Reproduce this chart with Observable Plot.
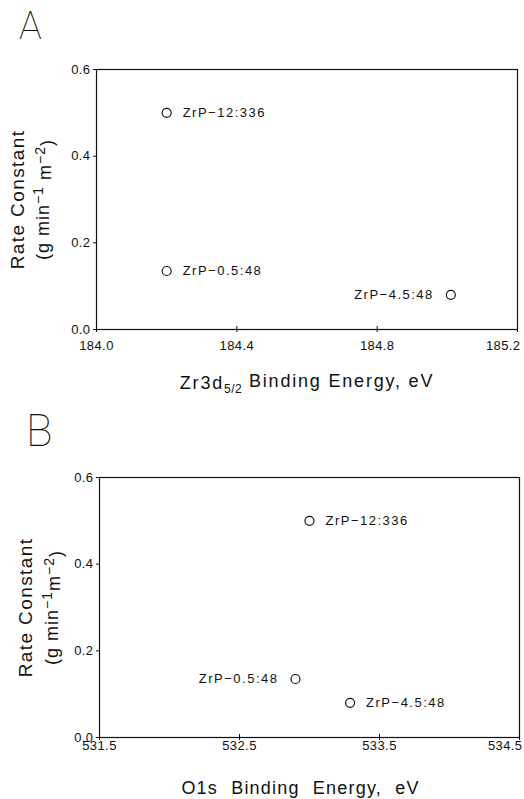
<!DOCTYPE html>
<html><head><meta charset="utf-8">
<script src="https://cdn.jsdelivr.net/npm/d3@7"></script>
<script src="https://cdn.jsdelivr.net/npm/@observablehq/plot@0.6"></script>
<style>
body{margin:0;background:#fff;}
#wrap{position:relative;width:524px;height:799px;overflow:hidden;}
.panel{position:absolute;left:0;}
.letter{position:absolute;font-family:Roboto, "DejaVu Sans", sans-serif;font-weight:100;line-height:1;color:#111;}
</style></head><body>
<div id="wrap">
 <div id="pa" class="panel" style="top:0"></div>
 <div id="pb" class="panel" style="top:400px"></div>
 <div class="letter" style="left:19px;top:7px;font-size:38px">A</div>
 <div class="letter" style="left:26px;top:409px;font-size:44px">B</div>
</div>
<script>
// ---- data ----
const samples = ["ZrP−12:336", "ZrP−0.5:48", "ZrP−4.5:48"];
const zr3dEnergy = [184.2, 184.2, 185.01];      // eV
const o1sEnergy = [533.0, 532.9, 533.29];       // eV
const rateConstant = [0.5, 0.135, 0.08];        // g min^-1 m^-2
const rateTicks = [0, 0.2, 0.4, 0.6];
const zrTicks = [184.0, 184.4, 184.8, 185.2];
const o1sTicks = [531.5, 532.5, 533.5, 534.5];

const ink = "#111";
const font = "'Liberation Sans', Arial, sans-serif";

function makePanel(xs, xTicks, sides, m, yLab, xLab) {
  const rows = samples.map((s, i) => ({name: s, x: xs[i], y: rateConstant[i], side: sides[i]}));
  const xDomain = [xTicks[0], xTicks[xTicks.length - 1]];
  const lastTick = xTicks[xTicks.length - 1];
  const fmt = d => d.toFixed(1);
  const svg = Plot.plot({
    width: 524, height: m.h,
    marginLeft: m.l, marginRight: m.r, marginTop: m.t, marginBottom: m.b,
    style: {fontFamily: font, fontSize: "13px", color: ink, background: "white", overflow: "visible", letterSpacing: "0.4px"},
    x: {domain: xDomain, ticks: xTicks, tickFormat: d => d === lastTick ? "" : fmt(d), tickSize: 3, tickPadding: m.xpad, label: null},
    y: {domain: [0, 0.6], ticks: rateTicks, tickFormat: fmt, tickSize: 3, tickPadding: 3, label: null},
    marks: [
      Plot.frame({stroke: ink, strokeWidth: 1.2}),
      Plot.ruleX(xTicks.slice(1, -1), {y1: 0, y2: 0.007, stroke: ink}),
      Plot.text([lastTick], {x: d => d, text: fmt, frameAnchor: "bottom", lineAnchor: "top", textAnchor: "end", dx: 3, dy: m.xpad + 3, fontSize: 13, fill: ink}),
      Plot.dot(rows, {x: "x", y: "y", r: 4.5, stroke: ink, strokeWidth: 1.2}),
      Plot.text(rows.filter(d => d.side === "right"), {x: "x", y: "y", text: "name", textAnchor: "start", dx: 16, fontSize: 13, fill: ink}),
      Plot.text(rows.filter(d => d.side === "left"), {x: "x", y: "y", text: "name", textAnchor: "end", dx: -17, fontSize: 13, fill: ink}),
      Plot.text(["Rate Constant"], {text: d => d, frameAnchor: "left", textAnchor: "middle", lineAnchor: "middle", rotate: -90, dx: yLab.dx1, fontSize: 19, fill: ink}),
      Plot.text([yLab.units], {text: d => d, frameAnchor: "left", textAnchor: "middle", lineAnchor: "middle", rotate: -90, dx: yLab.dx2, fontSize: 18, fill: ink}),
      Plot.text([xLab.text], {text: d => d, frameAnchor: "bottom", textAnchor: "middle", lineAnchor: "middle", dy: xLab.dy, dx: xLab.dx, fontSize: 18, fill: ink})
    ]
  });
  return svg;
}

const svgA = makePanel(zr3dEnergy, zrTicks, ["right", "right", "left"],
  {h: 400, l: 96, r: 7, t: 69, b: 71, xpad: 8},
  {dx1: -79, dx2: -53, units: "(g min-1 m-2)"},
  {text: "Zr3d5/2 Binding Energy, eV", dy: 54, dx: 0});
const svgB = makePanel(o1sEnergy, o1sTicks, ["right", "left", "right"],
  {h: 399, l: 99, r: 5, t: 77, b: 62, xpad: 0},
  {dx1: -74, dx2: -47, units: "(g min-1m-2)"},
  {text: "O1s Binding Energy, eV", dy: 51, dx: -9});

document.getElementById("pa").appendChild(svgA);
document.getElementById("pb").appendChild(svgB);

// typographic super/subscripts and spacing, keeping real text
function rich(svg) {
  d3.select(svg).selectAll("text").each(function() {
    const t = d3.select(this);
    const s = t.text();
    if (s.startsWith("ZrP")) {
      t.attr("letter-spacing", "1.5px");
    } else if (s.startsWith("Rate")) {
      t.attr("letter-spacing", "1.4px");
    } else if (s.startsWith("(g min")) {
      const spaced = s.includes("1 m");
      t.text(null).attr("letter-spacing", "1px");
      t.append("tspan").text("(g min");
      t.append("tspan").attr("dy", "-0.45em").attr("font-size", 14).text("−1");
      t.append("tspan").attr("dy", "0.45em").text(spaced ? " m" : "m");
      t.append("tspan").attr("dy", "-0.45em").attr("font-size", 14).text("−2");
      t.append("tspan").attr("dy", "0.45em").text(")");
    } else if (s.startsWith("Zr3d")) {
      t.text(null).attr("letter-spacing", "1.8px");
      t.append("tspan").text("Zr3d");
      t.append("tspan").attr("dy", "0.35em").attr("font-size", 12).attr("letter-spacing", "0.5px").text("5/2");
      t.append("tspan").attr("dy", "-0.35em").text(" Binding Energy, eV");
    } else if (s.startsWith("O1s")) {
      t.attr("word-spacing", "7px").attr("letter-spacing", "1.2px");
    }
  });
}
rich(svgA); rich(svgB);
</script>
</body></html>
